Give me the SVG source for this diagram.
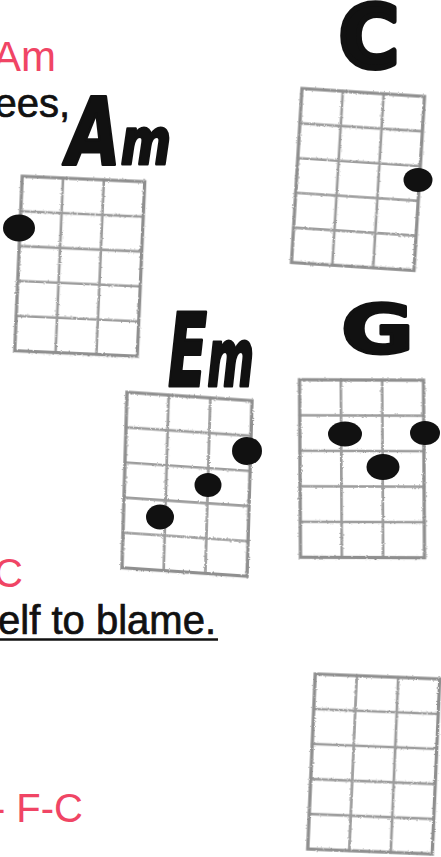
<svg xmlns="http://www.w3.org/2000/svg" width="441" height="857" viewBox="0 0 441 857">
<style>
.lyric{font-family:"Liberation Sans",Arial,sans-serif;font-size:40px;fill:#111;stroke:#111;stroke-width:0.7}
.chordname{font-family:"Liberation Sans",Arial,sans-serif;font-size:40px;fill:#f04565}
.hand{font-family:"DejaVu Sans","Liberation Sans",sans-serif;font-weight:bold;fill:#111;stroke:#111;stroke-width:3;stroke-linejoin:round}
.grid{fill:none;stroke:#9d9d9d;stroke-width:2.6;stroke-linecap:round}
.frame{fill:none;stroke:#8f8f8f;stroke-width:3.2}
.dot{fill:#111}
</style>
<defs>
<filter id="pencil" x="-5%" y="-5%" width="110%" height="110%">
<feTurbulence type="fractalNoise" baseFrequency="0.9" numOctaves="2" seed="3" result="n"/>
<feDisplacementMap in="SourceGraphic" in2="n" scale="2.5" xChannelSelector="R" yChannelSelector="G"/>
</filter>
<g id="fret">
<path class="grid" d="M0 35H120M0 70H120M0 105H120M0 140H120M40 0V175M80 0V175"/>
<rect class="frame" x="0" y="0" width="120" height="175"/>
</g>
</defs>

<g id="lyrics">
<text class="chordname" x="56" y="71" text-anchor="end" style="font-size:42px">Am</text>
<text class="lyric" x="70" y="117" text-anchor="end">ees,</text>
<text class="chordname" x="23" y="587" text-anchor="end">C</text>
<text class="lyric" x="216" y="634" text-anchor="end">elf to blame.</text>
<line x1="0" y1="639.5" x2="218" y2="639.5" stroke="#111" stroke-width="2.4"/>
<text class="chordname" x="83" y="822" text-anchor="end">- F-C</text>
</g>

<g id="chord-am">
<text class="hand" x="67" y="164" font-style="italic" textLength="104" lengthAdjust="spacingAndGlyphs"><tspan font-size="92">A</tspan><tspan font-size="64">m</tspan></text>
<use href="#fret" filter="url(#pencil)" transform="matrix(1.0208 0.0458 -0.0429 0.997 22.25 176.25)"/>
<ellipse class="dot" cx="19" cy="228" rx="16" ry="13.5"/>
</g>

<g id="chord-c">
<text class="hand" x="339" y="67" font-size="86" textLength="60" lengthAdjust="spacingAndGlyphs" style="stroke-width:6">C</text>
<use href="#fret" filter="url(#pencil)" transform="matrix(1.021 0.0667 -0.06 0.994 302 88.5)"/>
<ellipse class="dot" cx="418" cy="180" rx="14.5" ry="12"/>
</g>

<g id="chord-em">
<text class="hand" x="168" y="386" font-style="italic" textLength="86" lengthAdjust="spacingAndGlyphs"><tspan font-size="102">E</tspan><tspan font-size="80">m</tspan></text>
<use href="#fret" filter="url(#pencil)" transform="matrix(1.0417 0.0708 -0.0286 1.0029 127 392.25)"/>
<ellipse class="dot" cx="247" cy="451" rx="15" ry="14"/>
<ellipse class="dot" cx="208" cy="485" rx="13.5" ry="12"/>
<ellipse class="dot" cx="160" cy="517" rx="14" ry="12.5"/>
</g>

<g id="chord-g">
<text class="hand" x="341" y="353" font-size="68" textLength="73" lengthAdjust="spacingAndGlyphs">G</text>
<use href="#fret" filter="url(#pencil)" transform="matrix(1.0333 0.004 0.0057 1.0143 299.5 379.75)"/>
<ellipse class="dot" cx="345" cy="434" rx="17" ry="12.5"/>
<ellipse class="dot" cx="425" cy="433" rx="15" ry="12"/>
<ellipse class="dot" cx="383" cy="467" rx="16.5" ry="13"/>
</g>

<g id="chord-blank">
<use href="#fret" filter="url(#pencil)" transform="matrix(1.0375 0.0417 -0.0429 1.0 315.25 674)"/>
</g>
</svg>
